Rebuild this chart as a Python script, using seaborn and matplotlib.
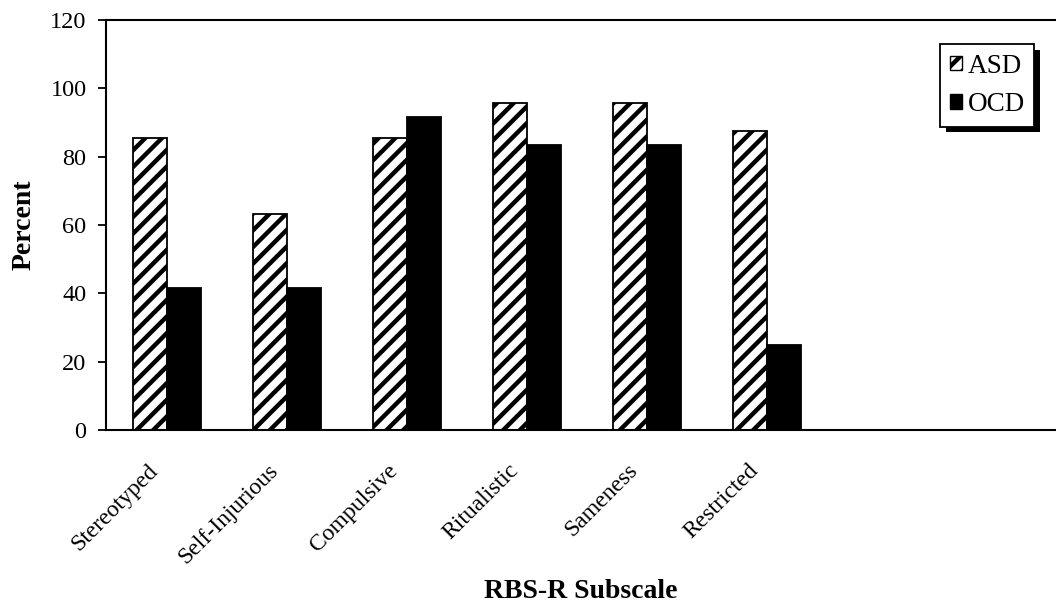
import numpy as np
import pandas as pd
import matplotlib
matplotlib.use('Agg')
import matplotlib.pyplot as plt
import matplotlib.patheffects as pe
import matplotlib.transforms as mtransforms
from matplotlib.patches import Patch
import seaborn as sns

### Data
subscales = ['Stereotyped', 'Self-Injurious', 'Compulsive', 'Ritualistic', 'Sameness', 'Restricted']
asd_pct = [85.4, 63.2, 85.4, 95.8, 95.8, 87.5]
ocd_pct = [41.7, 41.7, 91.7, 83.3, 83.3, 25.0]
groups = ['ASD', 'OCD']
y_ticks = [0, 20, 40, 60, 80, 100, 120]

df = pd.DataFrame({
    'Subscale': subscales * 2,
    'Percent': asd_pct + ocd_pct,
    'Group': ['ASD'] * len(subscales) + ['OCD'] * len(subscales),
})

### Style
sns.set_theme(style='white')
plt.rcParams['font.family'] = ['Liberation Serif', 'DejaVu Serif']
plt.rcParams['text.color'] = 'black'
plt.rcParams['axes.labelcolor'] = 'black'
plt.rcParams['xtick.color'] = 'black'
plt.rcParams['ytick.color'] = 'black'
plt.rcParams['hatch.linewidth'] = 3.2
plt.rcParams['hatch.color'] = 'black'

fig = plt.figure(figsize=(10.56, 6.13), dpi=100)
ax = fig.add_axes([106 / 1056, 183 / 613, 950 / 1056, 410 / 613])

sns.barplot(data=df, x='Subscale', y='Percent', hue='Group', order=subscales,
            hue_order=groups, palette={'ASD': 'white', 'OCD': 'black'},
            edgecolor='black', linewidth=1.3, width=0.567, saturation=1,
            errorbar=None, legend=False, ax=ax)

# hatch the ASD bars
for bar in ax.containers[0]:
    bar.set_hatch('//')

ax.set_xlim(-0.508, 7.41)
ax.set_ylim(0, 120)
ax.set_yticks(y_ticks)

for side in ['left', 'top', 'bottom']:
    ax.spines[side].set_visible(True)
    ax.spines[side].set_color('black')
    ax.spines[side].set_linewidth(1.5)
ax.spines['right'].set_visible(False)

ax.tick_params(axis='y', direction='out', length=6, width=1.3,
               labelsize=17.5, pad=8, left=True)
ax.tick_params(axis='x', length=0, labelsize=17, pad=27)

offset = mtransforms.ScaledTranslation(-12 / 100, 0, fig.dpi_scale_trans)
for lab in ax.get_xticklabels():
    lab.set_rotation(45)
    lab.set_ha('right')
    lab.set_va('center')
    lab.set_rotation_mode('anchor')
    lab.set_transform(lab.get_transform() + offset)

ax.set_xlabel('RBS-R Subscale', fontsize=20, fontweight='bold', labelpad=8)
ax.set_ylabel('Percent', fontsize=20, fontweight='bold', labelpad=10)

handles = [Patch(facecolor='white', edgecolor='black', hatch='//', linewidth=1.0, label='ASD'),
           Patch(facecolor='black', edgecolor='black', linewidth=1.0, label='OCD')]
leg = ax.legend(handles=handles, loc='upper right', bbox_to_anchor=(0.977, 0.941),
                borderaxespad=0, fontsize=19.5, frameon=True, fancybox=False,
                handlelength=0.45, handleheight=0.45, handletextpad=0.2,
                labelspacing=0.5, borderpad=0.35)
frame = leg.get_frame()
frame.set_edgecolor('black')
frame.set_linewidth(1.3)
frame.set_facecolor('white')
frame.set_alpha(1)
frame.set_path_effects([pe.SimplePatchShadow(offset=(4, -4), shadow_rgbFace='black', alpha=1),
                        pe.Normal()])

fig.savefig('out.png', dpi=100)
